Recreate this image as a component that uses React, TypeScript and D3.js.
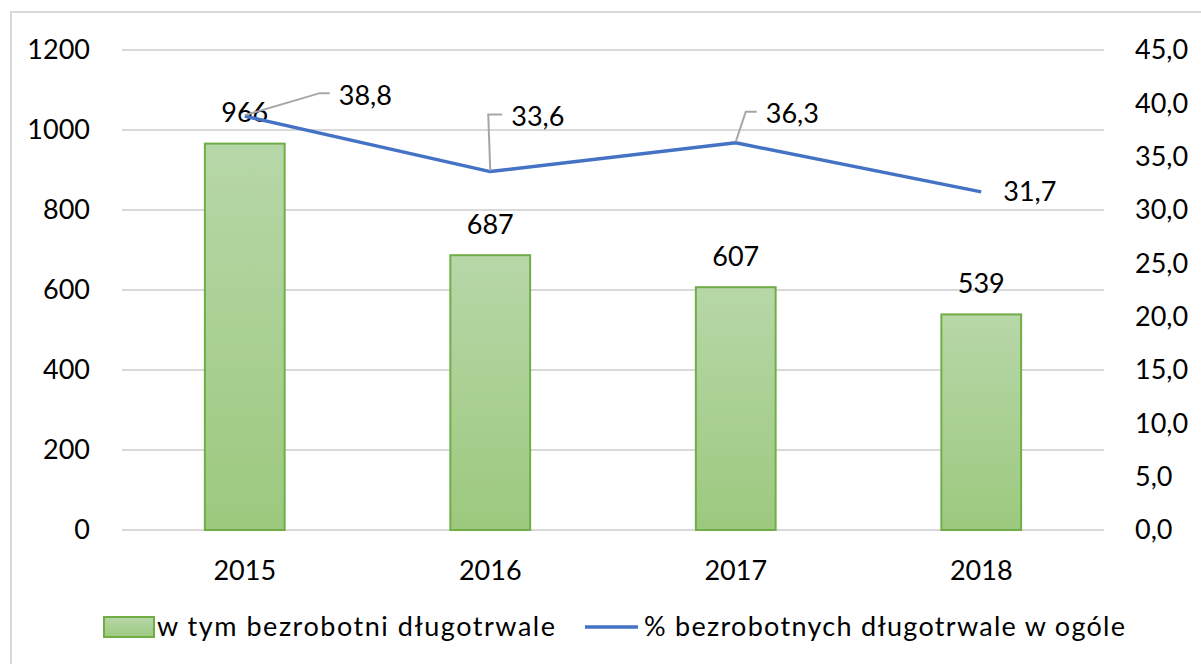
import React from "react";
import * as d3 from "d3";

const years = ["2015", "2016", "2017", "2018"];
const longTermUnemployed = [966, 687, 607, 539];
const sharePercent = [38.8, 33.6, 36.3, 31.7];
const leftTicks = [0, 200, 400, 600, 800, 1000, 1200];
const rightTicks = [0, 5, 10, 15, 20, 25, 30, 35, 40, 45];
const barLegend = "w tym bezrobotni długotrwale";
const lineLegend = "% bezrobotnych długotrwale w ogóle";

const W = 1201;
const H = 664;
const FONT = "Lato, 'Noto Sans', sans-serif";
const FS = 27;

const fmt = (v: number) => v.toFixed(1).replace(".", ",");

// leader-line layout for the percentage labels: [dx, dy, horizontal tail, has leader]
const pctLabelOffsets: [number, number, number, boolean][] = [
  [75, -23, 10, true],
  [-2, -57, 14, true],
  [10, -31, 11, true],
  [22, 0, 0, false],
];

export default function App() {
  const left = 122;
  const right = 1104;
  const top = 50;
  const bottom = 530;

  const x = d3
    .scaleBand<string>()
    .domain(years)
    .range([left, right])
    .paddingInner(0.675)
    .paddingOuter(0.3375);
  const y = d3.scaleLinear().domain([0, 1200]).range([bottom, top]);
  const y2 = d3.scaleLinear().domain([0, 45]).range([bottom, top]);

  const cx = (d: string) => (x(d) ?? 0) + x.bandwidth() / 2;

  const line = d3
    .line<number>()
    .x((_, i) => cx(years[i]))
    .y((v) => y2(v));

  return (
    <svg
      width={W}
      height={H}
      style={{ position: "absolute", left: 0, top: 0, background: "#fff" }}
      fontFamily={FONT}
      fontSize={FS}
    >
      <defs>
        <linearGradient id="barFill" x1="0" y1="0" x2="0" y2="1">
          <stop offset="0%" stopColor="#b7d7a8" />
          <stop offset="100%" stopColor="#9cc97e" />
        </linearGradient>
      </defs>

      {/* chart frame */}
      <path d={`M11,${H + 5}V12H${W + 5}`} fill="none" stroke="#d9d9d9" strokeWidth={2} />

      {/* gridlines */}
      {leftTicks.map((t) => (
        <line key={t} x1={left} x2={right} y1={y(t)} y2={y(t)} stroke="#d9d9d9" strokeWidth={2} />
      ))}

      {/* left axis labels */}
      {leftTicks.map((t) => (
        <text key={t} x={90} y={y(t)} dy="0.35em" textAnchor="end" fill="#000">
          {t}
        </text>
      ))}

      {/* right axis labels */}
      {rightTicks.map((t) => (
        <text key={t} x={1135} y={y2(t)} dy="0.35em" textAnchor="start" fill="#000">
          {fmt(t)}
        </text>
      ))}

      {/* bars */}
      {years.map((d, i) => (
        <rect
          key={d}
          x={x(d)}
          y={y(longTermUnemployed[i])}
          width={x.bandwidth()}
          height={bottom - y(longTermUnemployed[i])}
          fill="url(#barFill)"
          stroke="#70ad47"
          strokeWidth={2}
        />
      ))}

      {/* bar value labels */}
      {years.map((d, i) => (
        <text
          key={d}
          x={cx(d)}
          y={y(longTermUnemployed[i]) - 31}
          dy="0.35em"
          textAnchor="middle"
          fill="#000"
        >
          {longTermUnemployed[i]}
        </text>
      ))}

      {/* x labels */}
      {years.map((d) => (
        <text key={d} x={cx(d)} y={571} dy="0.35em" textAnchor="middle" fill="#000">
          {d}
        </text>
      ))}

      {/* line */}
      <path d={line(sharePercent) ?? ""} fill="none" stroke="#4472c4" strokeWidth={3.5} strokeLinejoin="round" />

      {/* percentage labels with leader lines */}
      {years.map((d, i) => {
        const px = cx(d);
        const py = y2(sharePercent[i]);
        const [dx, dy, tail, leader] = pctLabelOffsets[i];
        const lx = px + dx;
        const ly = py + dy;
        return (
          <g key={d}>
            {leader && (
              <polyline
                points={`${px},${py - 1} ${lx},${ly} ${lx + tail},${ly}`}
                fill="none"
                stroke="#a6a6a6"
                strokeWidth={2}
              />
            )}
            <text x={leader ? lx + tail + 9 : lx} y={leader ? ly + 2 : ly} dy="0.35em" fill="#000">
              {fmt(sharePercent[i])}
            </text>
          </g>
        );
      })}

      {/* legend */}
      <rect x={104} y={617} width={50} height={20} fill="url(#barFill)" stroke="#70ad47" strokeWidth={2} />
      <text x={157} y={627} dy="0.35em" fill="#000" textLength={398} lengthAdjust="spacing">
        {barLegend}
      </text>
      <line x1={585} x2={638} y1={627} y2={627} stroke="#4472c4" strokeWidth={3.5} />
      <text x={644} y={627} dy="0.35em" fill="#000" textLength={481} lengthAdjust="spacing">
        {lineLegend}
      </text>
    </svg>
  );
}
